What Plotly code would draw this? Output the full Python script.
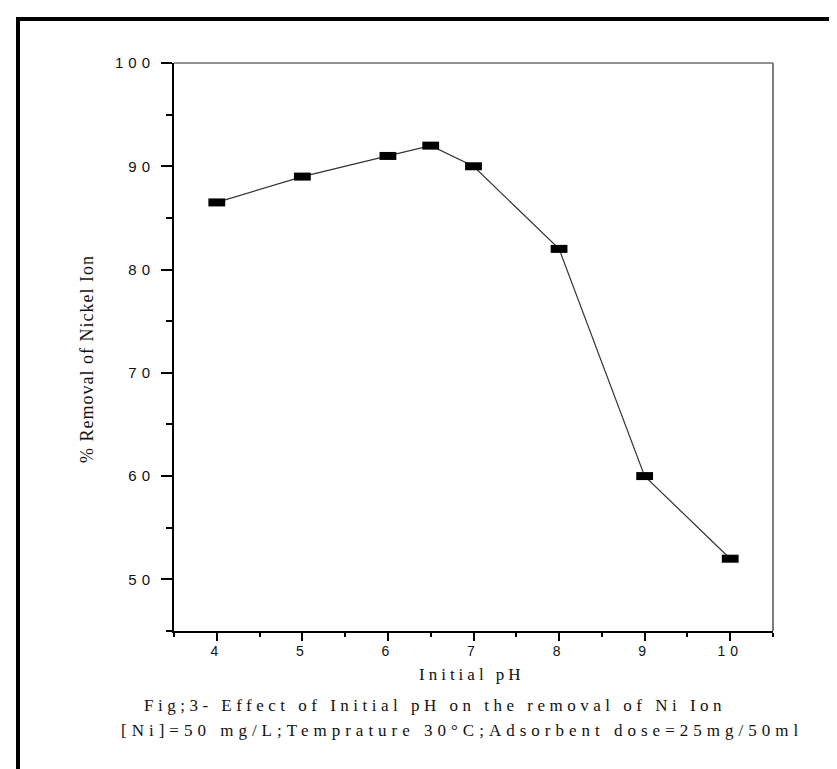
import plotly.graph_objects as go

# ---- data ----
ph = [4, 5, 6, 6.5, 7, 8, 9, 10]
removal = [86.5, 89, 91, 92, 90, 82, 60, 52]

x_ticks = [4, 5, 6, 7, 8, 9, 10]
x_tick_labels = ["4", "5", "6", "7", "8", "9", "10"]
y_ticks = [50, 60, 70, 80, 90, 100]
y_tick_labels = ["50", "60", "70", "80", "90", "100"]

x_title = "Initial pH"
y_title = "% Removal of Nickel Ion"
caption_1 = "Fig;3- Effect of Initial pH on the removal of Ni Ion"
caption_2 = "[Ni]=50 mg/L;Temprature 30°C;Adsorbent dose=25mg/50ml"

# ---- layout geometry (pixels) ----
W, H = 837, 769
L, R, T, B = 166, 765, 55, 623
PW, PH = R - L, B - T


def px(x):
    return (x - L) / PW


def py(y):
    return (B - y) / PH


def spaced(t, s):
    return f'<span style="letter-spacing:{s}px">{t}</span>'


SANS = "Liberation Sans, Arial, sans-serif"
SERIF = "Liberation Serif, Times New Roman, serif"

fig = go.Figure()
fig.add_trace(go.Scatter(
    x=ph, y=removal, mode="lines+markers",
    line=dict(color="#333333", width=1.2),
    marker=dict(symbol="line-ew", size=12, color="black",
                line=dict(width=8, color="black")),
    showlegend=False, hoverinfo="x+y",
))

fig.update_layout(
    width=W, height=H,
    margin=dict(l=L, r=W - R, t=T, b=H - B, autoexpand=False),
    paper_bgcolor="white", plot_bgcolor="white",
    xaxis=dict(
        range=[3.5, 10.5], showgrid=False, zeroline=False,
        showline=True, linecolor="black", linewidth=2,
        ticks="outside", ticklen=8, tickwidth=1.5, tickcolor="black",
        tickvals=x_ticks, ticktext=[spaced(t, 5) for t in x_tick_labels],
        tickfont=dict(family=SANS, size=14, color="#111111"),
        ticklabelstandoff=-2,
        minor=dict(ticks="outside", dtick=0.5, tick0=3.5, ticklen=4,
                   tickwidth=1.5, tickcolor="black", showgrid=False),
    ),
    yaxis=dict(
        range=[45, 100], showgrid=False, zeroline=False,
        showline=True, linecolor="black", linewidth=2,
        ticks="outside", ticklen=11, tickwidth=1.5, tickcolor="black",
        tickvals=y_ticks, ticktext=[spaced(t, 5) for t in y_tick_labels],
        tickfont=dict(family=SANS, size=15, color="#111111"),
        ticklabelstandoff=3,
        minor=dict(ticks="outside", dtick=5, tick0=45, ticklen=6,
                   tickwidth=1.5, tickcolor="black", showgrid=False),
    ),
)

# top and right frame of the plot area (gray)
fig.add_shape(type="line", xref="paper", yref="paper", x0=0, x1=1, y0=1, y1=1,
              line=dict(color="#6e6e6e", width=1.5))
fig.add_shape(type="line", xref="paper", yref="paper", x0=1, x1=1, y0=0, y1=1,
              line=dict(color="#6e6e6e", width=1.8))

# outer page frame (left and top black bars)
fig.add_shape(type="rect", xref="paper", yref="paper",
              x0=px(8), x1=px(12), y0=py(H), y1=py(9),
              fillcolor="black", line=dict(width=0))
fig.add_shape(type="rect", xref="paper", yref="paper",
              x0=px(8), x1=px(W), y0=py(13), y1=py(9),
              fillcolor="black", line=dict(width=0))

# titles and captions
fig.add_annotation(text=spaced(x_title, 4), xref="paper", yref="paper",
                   x=px(464), y=py(666), xanchor="center", yanchor="middle",
                   showarrow=False, font=dict(family=SERIF, size=17, color="#111111"))
fig.add_annotation(text=spaced(y_title, 1), xref="paper", yref="paper",
                   x=px(79), y=py(351), xanchor="center", yanchor="middle",
                   textangle=-90, showarrow=False,
                   font=dict(family=SERIF, size=18, color="#111111"))
fig.add_annotation(text=spaced(caption_1, 4.5), xref="paper", yref="paper",
                   x=px(427), y=py(697), xanchor="center", yanchor="middle",
                   showarrow=False, font=dict(family=SERIF, size=17, color="#111111"))
fig.add_annotation(text=spaced(caption_2, 5), xref="paper", yref="paper",
                   x=px(454), y=py(722), xanchor="center", yanchor="middle",
                   showarrow=False, font=dict(family=SERIF, size=17, color="#111111"))

fig.write_html("out.html")
